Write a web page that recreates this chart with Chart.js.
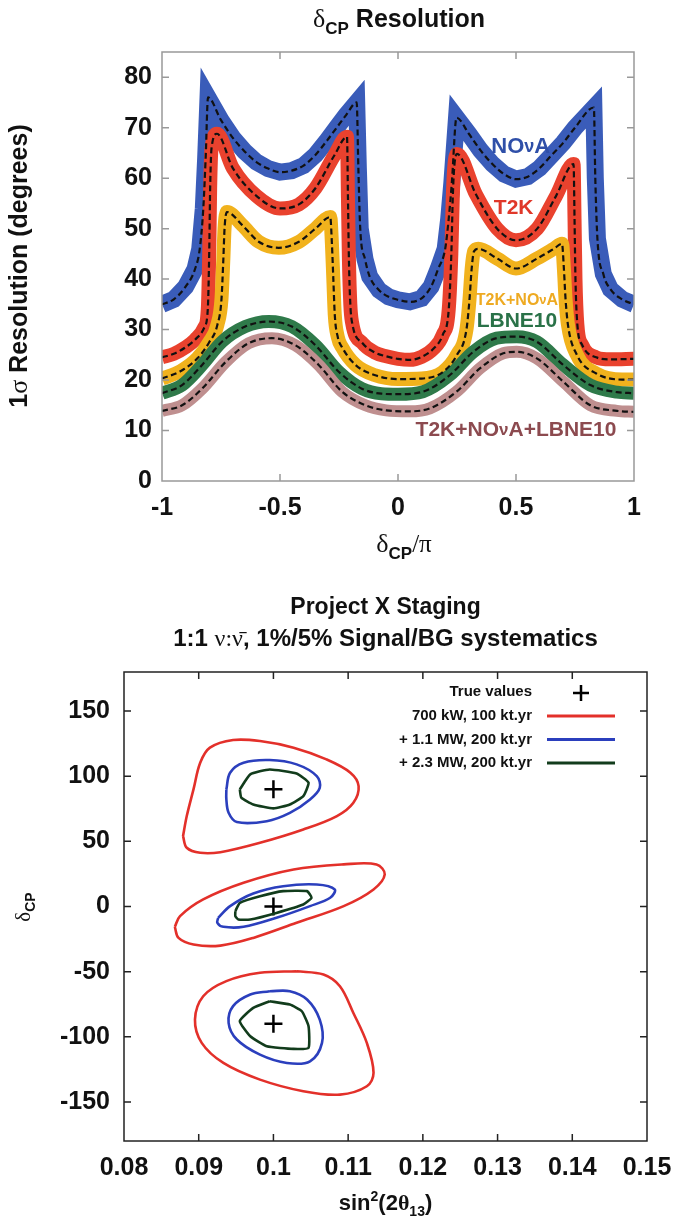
<!DOCTYPE html>
<html>
<head>
<meta charset="utf-8">
<script src="https://cdn.jsdelivr.net/npm/chart.js@4.4.0/dist/chart.umd.min.js"></script>
<style>
  body { margin: 0; background: #fff; }
  canvas { position: absolute; left: 0; }
  #resChart { top: 0; }
  #stageChart { top: 580px; }
</style>
</head>
<body>
<canvas id="resChart" width="674" height="580"></canvas>
<canvas id="stageChart" width="674" height="640"></canvas>
<script>
// ---- top panel: 1 sigma resolution on delta_CP (central dashed curves) ----
var novaX = [-1, -0.95, -0.9, -0.86, -0.84, -0.825, -0.815, -0.805, -0.75, -0.7, -0.65, -0.6, -0.55, -0.5, -0.45, -0.4, -0.35, -0.3, -0.26, -0.22, -0.175, -0.168, -0.16, -0.14, -0.12, -0.08, -0.04, 0, 0.05, 0.1, 0.14, 0.17, 0.2, 0.215, 0.228, 0.248, 0.3, 0.35, 0.4, 0.45, 0.5, 0.55, 0.6, 0.65, 0.7, 0.75, 0.83, 0.836, 0.845, 0.87, 0.9, 0.95, 1];
var novaY = [35, 36, 38.5, 42, 46, 54, 64, 76, 71.5, 68, 65.3, 63.2, 61.9, 61.2, 61.5, 62.5, 64.6, 67.5, 70, 72.5, 75, 62, 50, 44, 40.5, 37.8, 36.5, 35.9, 35.5, 36.2, 38.5, 42, 46, 52, 59, 72, 68.8, 65.5, 62.8, 60.8, 59.8, 60.3, 62, 64.5, 67, 70, 74, 60, 48, 41, 38, 36, 35];

var t2kX = [-1, -0.95, -0.9, -0.86, -0.82, -0.806, -0.8, -0.796, -0.79, -0.767, -0.7, -0.6, -0.5, -0.42, -0.35, -0.27, -0.216, -0.212, -0.208, -0.202, -0.195, -0.15, -0.1, -0.05, 0, 0.05, 0.1, 0.15, 0.19, 0.215, 0.226, 0.232, 0.238, 0.25, 0.33, 0.42, 0.5, 0.59, 0.67, 0.744, 0.748, 0.752, 0.76, 0.78, 0.84, 0.9, 1];
var t2kY = [24.5, 25.2, 26.5, 28, 30.5, 34, 45, 58, 66, 68.8, 62, 56.5, 54, 54.8, 58, 64.5, 68.2, 56, 44, 35, 31.5, 27.3, 25.5, 24.7, 24.2, 24, 24.6, 26.2, 29, 34, 45, 56, 62, 64.8, 56.8, 50, 47.7, 50, 56.5, 62.8, 52, 40, 31, 27, 24.5, 24.1, 24.2];

var t2kNovaX = [-1, -0.92, -0.85, -0.8, -0.765, -0.748, -0.74, -0.735, -0.725, -0.66, -0.59, -0.505, -0.42, -0.35, -0.287, -0.28, -0.274, -0.268, -0.255, -0.237, -0.18, -0.1, 0, 0.1, 0.19, 0.25, 0.29, 0.303, 0.312, 0.322, 0.34, 0.42, 0.5, 0.59, 0.66, 0.695, 0.703, 0.71, 0.72, 0.758, 0.84, 0.95, 1];
var t2kNovaY = [20.3, 21.8, 24.3, 27.5, 31, 36, 44, 50, 53.3, 50.7, 47.4, 46.2, 47.4, 50, 52.3, 47, 40, 33, 28.5, 26.5, 23, 21, 20.2, 20.3, 21.6, 25, 30, 36, 42, 45.5, 46, 44.1, 42.1, 44.1, 46, 47, 42, 36, 31, 25, 21.3, 20.1, 20.1];

var lbneX = [-1, -0.915, -0.83, -0.746, -0.647, -0.548, -0.45, -0.35, -0.25, -0.153, -0.07, 0, 0.106, 0.22, 0.319, 0.418, 0.503, 0.588, 0.7, 0.815, 0.928, 1];
var lbneY = [17.4, 19, 23, 27.6, 30.6, 31.6, 30.6, 26.9, 21.6, 18.3, 17.3, 17.2, 17.7, 21, 25.6, 28.3, 28.6, 27.6, 23, 19, 17.6, 17.4];

var allX = [-1, -0.915, -0.83, -0.73, -0.633, -0.534, -0.435, -0.336, -0.237, -0.138, -0.05, 0.05, 0.135, 0.248, 0.347, 0.446, 0.503, 0.588, 0.7, 0.815, 0.928, 1];
var allY = [13.9, 15, 18.3, 23.6, 27.3, 28.3, 26.9, 23, 17.7, 15, 14, 13.8, 14.4, 17.7, 22.3, 25.3, 25.6, 24.3, 19.7, 15, 13.9, 13.7];

// ---- bottom panel: allowed regions in (sin^2 2theta13, delta_CP) ----
var red90X = [0.0879, 0.0884, 0.0893, 0.0902, 0.0915, 0.0946, 0.0982, 0.1027, 0.1071, 0.1103, 0.1114, 0.1107, 0.1085, 0.104, 0.0982, 0.0929, 0.0902, 0.0884, 0.0879];
var red90Y = [54, 69.4, 89.9, 110.3, 121.9, 127.8, 127, 121.9, 112.9, 102.7, 92.4, 79.6, 69.4, 59.1, 48.9, 41.7, 41.2, 45.1, 54];
var blue90X = [0.0937, 0.0942, 0.096, 0.0995, 0.1031, 0.1058, 0.1062, 0.1049, 0.1022, 0.0991, 0.0951, 0.094, 0.0937, 0.0937];
var blue90Y = [89.9, 102.7, 110.3, 112.4, 109.1, 100.1, 91.1, 82.2, 71.9, 65.5, 64.8, 71.9, 82.2, 89.9];
var green90X = [0.0955, 0.0969, 0.0995, 0.1031, 0.1047, 0.104, 0.1022, 0.1, 0.0973, 0.0957, 0.0955];
var green90Y = [89.9, 101.4, 105.2, 102.1, 95, 84.7, 78.3, 75.3, 78.3, 83.5, 89.9];

var red0X = [0.0868, 0.0875, 0.0906, 0.096, 0.1027, 0.1094, 0.1138, 0.1149, 0.1134, 0.1094, 0.1031, 0.0973, 0.0929, 0.0893, 0.0873, 0.0868];
var red0Y = [-15.6, -7.4, 5.4, 18.2, 28.4, 32.3, 32.3, 24.6, 13.1, 0.3, -12.5, -24.1, -30, -29.2, -24.1, -15.6];
var blue0X = [0.0926, 0.0942, 0.0973, 0.1013, 0.1058, 0.1082, 0.1076, 0.1049, 0.1004, 0.096, 0.0933, 0.0925, 0.0926];
var blue0Y = [-8.7, 0.3, 10, 15.6, 16.9, 13.1, 6.7, 0.3, -8.7, -15.6, -15.6, -12.5, -8.7];
var green0X = [0.0949, 0.0955, 0.0982, 0.1013, 0.1045, 0.1051, 0.104, 0.1004, 0.0969, 0.0953, 0.0949, 0.0949];
var green0Y = [-3.6, 2.8, 7.9, 11.8, 11.8, 6.7, 1.5, -4.9, -10, -10, -7.4, -3.6];

var redM90X = [0.1031, 0.0982, 0.0937, 0.0906, 0.0895, 0.0904, 0.0933, 0.0982, 0.104, 0.1089, 0.1125, 0.1134, 0.1125, 0.1107, 0.1089, 0.1067, 0.1031];
var redM90Y = [-49.7, -50.9, -57.3, -68.9, -86.8, -104.7, -120.1, -132.9, -141.8, -144.4, -138, -127.7, -104.7, -81.7, -61.2, -52.2, -49.7];
var blueM90X = [0.0995, 0.0969, 0.0946, 0.094, 0.0951, 0.0982, 0.1018, 0.1049, 0.1065, 0.1062, 0.1045, 0.1022, 0.0995];
var blueM90Y = [-65, -67.6, -76.5, -89.3, -102.1, -113.7, -120.1, -118.8, -104.7, -86.8, -71.4, -65, -65];
var greenM90X = [0.0995, 0.0973, 0.0955, 0.0969, 0.0991, 0.1027, 0.1047, 0.1047, 0.1038, 0.1022, 0.0995];
var greenM90Y = [-72.7, -77.8, -88, -99.6, -107.3, -109.3, -108.5, -91.9, -80.4, -75.3, -72.7];

var trueX = [0.1, 0.1, 0.1];
var trueY = [90, 0, -90];

var legendNames = ['700 kW, 100 kt.yr', '+ 1.1 MW, 200 kt.yr', '+ 2.3 MW, 200 kt.yr'];

var SANS = '"Liberation Sans", Arial, sans-serif';
var SERIF = '"Liberation Serif", "DejaVu Serif", serif';

function pts(xs, ys) {
  return xs.map(function (x, i) { return { x: x, y: ys[i] }; });
}

// draws a run of text pieces [text, font, dy, color]
function rich(ctx, parts, x, y, align, color) {
  var w = 0;
  parts.forEach(function (p) { ctx.font = p[1]; w += ctx.measureText(p[0]).width; });
  var cx = align === 'center' ? x - w / 2 : (align === 'right' ? x - w : x);
  ctx.textAlign = 'left';
  parts.forEach(function (p) {
    ctx.font = p[1];
    ctx.fillStyle = p[3] || color || '#111';
    ctx.fillText(p[0], cx, y + (p[2] || 0));
    cx += ctx.measureText(p[0]).width;
  });
}

function frameTicks(chart, color, len) {
  var a = chart.chartArea, ctx = chart.ctx, sx = chart.scales.x, sy = chart.scales.y;
  ctx.save();
  ctx.strokeStyle = color;
  ctx.lineWidth = 1.5;
  ctx.strokeRect(a.left, a.top, a.right - a.left, a.bottom - a.top);
  ctx.beginPath();
  sx.ticks.forEach(function (t) {
    if (t.value <= sx.min || t.value >= sx.max) return;
    var px = sx.getPixelForValue(t.value);
    ctx.moveTo(px, a.bottom); ctx.lineTo(px, a.bottom - len);
    ctx.moveTo(px, a.top); ctx.lineTo(px, a.top + len);
  });
  sy.ticks.forEach(function (t) {
    if (t.value <= sy.min || t.value >= sy.max) return;
    var py = sy.getPixelForValue(t.value);
    ctx.moveTo(a.left, py); ctx.lineTo(a.left + len, py);
    ctx.moveTo(a.right, py); ctx.lineTo(a.right - len, py);
  });
  ctx.stroke();
  ctx.restore();
}

function tickFont() {
  return { family: SANS, size: 25, weight: 'bold' };
}
function fmt(v) { return String(Math.round(v * 1000) / 1000); }

// ---------- top chart ----------
var series = [
  { name: 'NOvA', xs: novaX, ys: novaY, color: '#3a5cb9', width: 17, join: 'miter', tension: 0 },
  { name: 'T2K', xs: t2kX, ys: t2kY, color: '#e9422e', width: 14, join: 'round', tension: 0.4 },
  { name: 'T2K+NOvA', xs: t2kNovaX, ys: t2kNovaY, color: '#f1b21d', width: 14, join: 'round', tension: 0.4 },
  { name: 'LBNE10', xs: lbneX, ys: lbneY, color: '#2f7a4a', width: 13, join: 'round', tension: 0.4 },
  { name: 'T2K+NOvA+LBNE10', xs: allX, ys: allY, color: '#bf8f8f', width: 12, join: 'round', tension: 0.4 }
];

var topSets = [];
series.forEach(function (s, i) {
  topSets.push({
    label: s.name + ' band',
    data: pts(s.xs, s.ys),
    borderColor: s.color,
    borderWidth: s.width,
    borderJoinStyle: s.join,
    cubicInterpolationMode: s.tension ? 'monotone' : 'default',
    tension: 0,
    pointRadius: 0,
    fill: false,
    order: 5 - i + 1
  });
  topSets.push({
    label: s.name,
    data: pts(s.xs, s.ys),
    borderColor: '#111',
    borderWidth: 2.2,
    borderDash: [6, 3.5],
    cubicInterpolationMode: 'monotone',
    pointRadius: 0,
    fill: false,
    order: 0
  });
});

var topDecor = {
  id: 'topDecor',
  afterDraw: function (chart) {
    var ctx = chart.ctx, sx = chart.scales.x, sy = chart.scales.y;
    frameTicks(chart, '#999', 7);
    ctx.save();
    ctx.textBaseline = 'alphabetic';
    rich(ctx, [['δ', '26px ' + SERIF], ['CP', 'bold 17px ' + SANS, 7], [' Resolution', 'bold 25px ' + SANS]], 399, 27, 'center');
    rich(ctx, [['δ', '26px ' + SERIF], ['CP', 'bold 17px ' + SANS, 7], ['/π', '25px ' + SERIF]], 404, 552, 'center');
    ctx.save();
    ctx.translate(27, 266);
    ctx.rotate(-Math.PI / 2);
    rich(ctx, [['1', 'bold 25px ' + SANS], ['σ', '26px ' + SERIF], [' Resolution (degrees)', 'bold 25px ' + SANS]], 0, 0, 'center');
    ctx.restore();
    ctx.textBaseline = 'middle';
    var bold = function (n) { return 'bold ' + n + 'px ' + SANS; };
    rich(ctx, [['NO', bold(22)], ['ν', bold(18)], ['A', bold(22)]], sx.getPixelForValue(0.52), sy.getPixelForValue(66.1), 'center', '#2f4fa8');
    rich(ctx, [['T2K', bold(21)]], sx.getPixelForValue(0.49), sy.getPixelForValue(54), 'center', '#e0382a');
    rich(ctx, [['T2K+NO', bold(16)], ['ν', bold(13)], ['A', bold(16)]], sx.getPixelForValue(0.504), sy.getPixelForValue(35.8), 'center', '#eeaa22');
    rich(ctx, [['LBNE10', bold(21)]], sx.getPixelForValue(0.504), sy.getPixelForValue(31.7), 'center', '#2a7248');
    rich(ctx, [['T2K+NO', bold(21)], ['ν', bold(17)], ['A+LBNE10', bold(21)]], sx.getPixelForValue(0.5), sy.getPixelForValue(10.1), 'center', '#8c4a4f');
    ctx.restore();
  }
};

new Chart(document.getElementById('resChart'), {
  type: 'line',
  data: { datasets: topSets },
  options: {
    responsive: false,
    animation: false,
    layout: { padding: { top: 52, right: 40, left: 0, bottom: 0 } },
    plugins: { legend: { display: false }, tooltip: { enabled: false } },
    scales: {
      x: {
        type: 'linear', min: -1, max: 1,
        ticks: { stepSize: 0.5, padding: 12, color: '#111', font: tickFont(), maxRotation: 0, callback: fmt },
        grid: { display: false, drawTicks: false },
        border: { display: false },
        afterFit: function (s) { s.height = 99; s.paddingLeft = 0; s.paddingRight = 0; }
      },
      y: {
        type: 'linear', min: 0, max: 85,
        ticks: { stepSize: 10, padding: 10, color: '#111', font: tickFont(), includeBounds: false, callback: fmt },
        grid: { display: false, drawTicks: false },
        border: { display: false },
        afterFit: function (s) { s.width = 162; s.paddingTop = 0; s.paddingBottom = 0; }
      }
    }
  },
  plugins: [topDecor]
});

// ---------- bottom chart ----------
var contourColors = ['#e3302a', '#2b3fbd', '#123c1c'];
var loops = [
  [red90X, red90Y, 0], [blue90X, blue90Y, 1], [green90X, green90Y, 2],
  [red0X, red0Y, 0], [blue0X, blue0Y, 1], [green0X, green0Y, 2],
  [redM90X, redM90Y, 0], [blueM90X, blueM90Y, 1], [greenM90X, greenM90Y, 2]
];
var bottomSets = loops.map(function (l) {
  return {
    data: pts(l[0], l[1]),
    showLine: true,
    borderColor: contourColors[l[2]],
    borderWidth: 2.6,
    tension: l[2] === 2 ? 0.15 : 0.35,
    pointRadius: 0,
    fill: false
  };
});
bottomSets.push({
  data: pts(trueX, trueY),
  showLine: false,
  pointStyle: 'cross',
  pointRadius: 9,
  pointBorderWidth: 2.5,
  borderColor: '#000',
  backgroundColor: '#000'
});

var bottomDecor = {
  id: 'bottomDecor',
  afterDraw: function (chart) {
    var ctx = chart.ctx, a = chart.chartArea;
    frameTicks(chart, '#222', 7);
    ctx.save();
    ctx.textBaseline = 'alphabetic';
    var cx = (a.left + a.right) / 2;
    rich(ctx, [['Project X Staging', 'bold 23px ' + SANS]], cx, 34, 'center');
    rich(ctx, [['1:1 ', 'bold 24px ' + SANS], ['ν:ν\u0304', '24px ' + SERIF], [', 1%/5% Signal/BG systematics', 'bold 24px ' + SANS]], cx, 66, 'center');
    rich(ctx, [['sin', 'bold 22px ' + SANS], ['2', 'bold 14px ' + SANS, -9], ['(2', 'bold 22px ' + SANS], ['θ', 'bold 22px ' + SERIF], ['13', 'bold 14px ' + SANS, 6], [')', 'bold 22px ' + SANS]], cx, 630, 'center');
    ctx.save();
    ctx.translate(30, 327);
    ctx.rotate(-Math.PI / 2);
    rich(ctx, [['δ', '21px ' + SERIF], ['CP', 'bold 14px ' + SANS, 5]], 0, 0, 'center');
    ctx.restore();

    // legend: text on the left, sample on the right
    ctx.textBaseline = 'middle';
    var tx = a.right - 115, lx0 = a.right - 100, lx1 = a.right - 32;
    rich(ctx, [['True values', 'bold 15px ' + SANS]], tx, a.top + 20, 'right');
    ctx.strokeStyle = '#000';
    ctx.lineWidth = 2.5;
    var mx = (lx0 + lx1) / 2, my = a.top + 21;
    ctx.beginPath();
    ctx.moveTo(mx - 8, my); ctx.lineTo(mx + 8, my);
    ctx.moveTo(mx, my - 8); ctx.lineTo(mx, my + 8);
    ctx.stroke();
    legendNames.forEach(function (name, i) {
      var y = a.top + 44 + i * 23.5;
      rich(ctx, [[name, 'bold 15px ' + SANS]], tx, y, 'right');
      ctx.strokeStyle = contourColors[i];
      ctx.lineWidth = 3;
      ctx.beginPath();
      ctx.moveTo(lx0, y); ctx.lineTo(lx1, y);
      ctx.stroke();
    });
    ctx.restore();
  }
};

new Chart(document.getElementById('stageChart'), {
  type: 'scatter',
  data: { datasets: bottomSets },
  options: {
    responsive: false,
    animation: false,
    layout: { padding: { top: 92, right: 27, left: 0, bottom: 0 } },
    plugins: { legend: { display: false }, tooltip: { enabled: false } },
    scales: {
      x: {
        type: 'linear', min: 0.08, max: 0.15,
        ticks: { stepSize: 0.01, padding: 12, color: '#111', font: tickFont(), maxRotation: 0, callback: fmt },
        grid: { display: false, drawTicks: false },
        border: { display: false },
        afterFit: function (s) { s.height = 79; s.paddingLeft = 0; s.paddingRight = 0; }
      },
      y: {
        type: 'linear', min: -180, max: 180,
        ticks: { stepSize: 50, padding: 14, color: '#111', font: tickFont(), includeBounds: false, callback: fmt },
        grid: { display: false, drawTicks: false },
        border: { display: false },
        afterFit: function (s) { s.width = 124; s.paddingTop = 0; s.paddingBottom = 0; }
      }
    }
  },
  plugins: [bottomDecor]
});
</script>
</body>
</html>
